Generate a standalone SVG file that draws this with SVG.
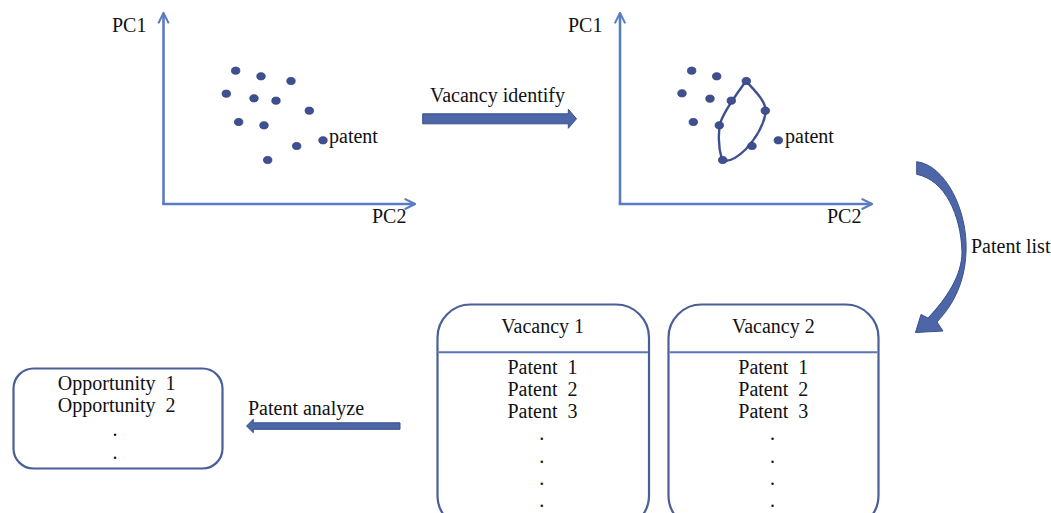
<svg xmlns="http://www.w3.org/2000/svg" width="1051" height="513" viewBox="0 0 1051 513">
<style>
text{font-family:"Liberation Serif","Times New Roman",serif;font-size:20px;fill:#111;}
.c{text-anchor:middle;}
.pre{white-space:pre;}
.axis{stroke:#5b7cc2;stroke-width:2.6;fill:none;}
.dot{fill:#3f5092;stroke:#2f3f78;stroke-width:0.8;}
.box{fill:#fff;stroke:#4b5f97;stroke-width:2.2;}
.div{stroke:#5a74b6;stroke-width:2;}
.arrow{fill:#4c66a8;stroke:#3a4f8a;stroke-width:1;}
</style>
<defs>
<marker id="chev" viewBox="0 0 10 10" refX="9" refY="5" markerWidth="5" markerHeight="5" orient="auto" markerUnits="strokeWidth">
<path d="M1,1 L9,5 L1,9" fill="none" stroke="#5b7cc2" stroke-width="1.6"/>
</marker>
<ellipse id="d" rx="4.2" ry="3.6" class="dot"/>
</defs>

<g id="plot1">
<path class="axis" d="M163.5,204 L163.5,13" marker-end="url(#chev)"/>
<path class="axis" d="M162.2,204 L415,204" marker-end="url(#chev)"/>
<text x="112" y="32">PC1</text>
<text x="372" y="223">PC2</text>
<use href="#d" x="235.7" y="70.7"/>
<use href="#d" x="261" y="76.3"/>
<use href="#d" x="291" y="81"/>
<use href="#d" x="226.3" y="93.7"/>
<use href="#d" x="254" y="98.3"/>
<use href="#d" x="276" y="100.7"/>
<use href="#d" x="309.3" y="110.7"/>
<use href="#d" x="238.7" y="122"/>
<use href="#d" x="264" y="125.3"/>
<use href="#d" x="323" y="140.3"/>
<use href="#d" x="296.7" y="146"/>
<use href="#d" x="267.7" y="160"/>
<text x="329" y="143">patent</text>
</g>

<g id="plot2">
<path class="axis" d="M620,204 L620,13" marker-end="url(#chev)"/>
<path class="axis" d="M618.7,204 L872,204" marker-end="url(#chev)"/>
<text x="568" y="32">PC1</text>
<text x="827" y="223">PC2</text>
<path d="M746,81 C754,90 765,100 766,111 C764,125 756,138 746,149 C738,157 730,163 722,160 C719,150 718,136 720,124 C723,112 736,95 746,81 Z" fill="none" stroke="#3f5092" stroke-width="2.4"/>
<use href="#d" x="691.7" y="70.7"/>
<use href="#d" x="716.7" y="76.3"/>
<use href="#d" x="746.3" y="81"/>
<use href="#d" x="682" y="93.3"/>
<use href="#d" x="710" y="98.7"/>
<use href="#d" x="731.3" y="100.7"/>
<use href="#d" x="765.3" y="110.7"/>
<use href="#d" x="693.3" y="122"/>
<use href="#d" x="719.3" y="125.3"/>
<use href="#d" x="778.3" y="140.3"/>
<use href="#d" x="752" y="146"/>
<use href="#d" x="722.7" y="160"/>
<text x="785" y="143">patent</text>
</g>

<g id="vacancy1">
<rect class="box" x="437.5" y="304.5" width="211.5" height="224" rx="33"/>
<line class="div" x1="438.6" y1="352.3" x2="647.9" y2="352.3"/>
<text class="c" x="542.7" y="333">Vacancy 1</text>
<text class="c pre" x="542.5" y="374">Patent  1</text>
<text class="c pre" x="542.5" y="396">Patent  2</text>
<text class="c pre" x="542.5" y="418">Patent  3</text>
<text class="c" x="541.7" y="440">.</text>
<text class="c" x="541.7" y="462.5">.</text>
<text class="c" x="541.7" y="484.5">.</text>
<text class="c" x="541.7" y="507">.</text>
</g>

<g id="vacancy2">
<rect class="box" x="668.5" y="304.5" width="210" height="224" rx="33"/>
<line class="div" x1="669.6" y1="352.3" x2="877.4" y2="352.3"/>
<text class="c" x="773.3" y="333">Vacancy 2</text>
<text class="c pre" x="773.3" y="374">Patent  1</text>
<text class="c pre" x="773.3" y="396">Patent  2</text>
<text class="c pre" x="773.3" y="418">Patent  3</text>
<text class="c" x="772.5" y="440">.</text>
<text class="c" x="772.5" y="462.5">.</text>
<text class="c" x="772.5" y="484.5">.</text>
<text class="c" x="772.5" y="507">.</text>
</g>

<g id="opportunity">
<rect class="box" x="13.5" y="368.5" width="209" height="100" rx="20"/>
<text class="c pre" x="116.7" y="390">Opportunity  1</text>
<text class="c pre" x="116.7" y="412">Opportunity  2</text>
<text class="c" x="115" y="436">.</text>
<text class="c" x="115" y="458.5">.</text>
</g>

<g id="connectors">
<path class="arrow" d="M422.7,113.8 L568.3,113.8 L568.3,109.3 L576.5,118.8 L568.3,128.3 L568.3,123.8 L422.7,123.8 Z"/>
<text x="430" y="101.7">Vacancy identify</text>
<path class="arrow" d="M916.7,161.7 C945,165 968,210 966,252 C965,280 955,303 937,322 L943,331 L915.5,332.5 L921,314.5 L928,318 C947,298 962,275 962,252 C961,215 945,180 916.7,174.3 Z"/>
<text x="971" y="253">Patent list</text>
<path class="arrow" d="M400,422.8 L253.3,422.8 L253.3,419.3 L246.5,426 L253.3,432.7 L253.3,429.3 L400,429.3 Z"/>
<text x="248" y="415">Patent analyze</text>
</g>
</svg>
